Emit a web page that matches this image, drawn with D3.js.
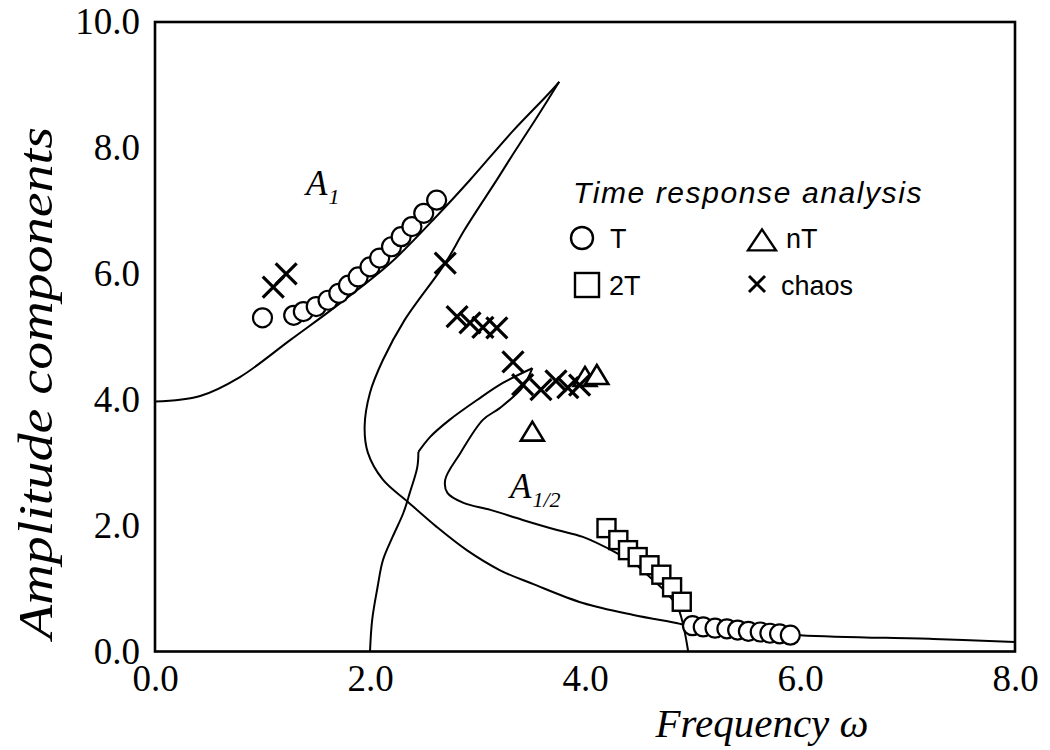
<!DOCTYPE html>
<html>
<head>
<meta charset="utf-8">
<script src="https://cdn.jsdelivr.net/npm/d3@7/dist/d3.min.js"></script>
<style>
  html, body { margin: 0; padding: 0; background: #fff; }
  svg { display: block; }
</style>
</head>
<body>
<svg id="chart" width="1050" height="750"></svg>
<script>
// Axis ticks
const xTicks = [0, 2, 4, 6, 8];
const yTicks = [0, 2, 4, 6, 8, 10];

// A1 curve: rising branch up to the peak
const a1RiseOmega = [0.00, 0.42, 0.79, 1.26, 1.72, 2.19, 2.65, 2.93, 3.33, 3.65, 3.76];
const a1RiseAmp   = [3.97, 4.06, 4.36, 4.95, 5.53, 6.17, 6.97, 7.49, 8.27, 8.84, 9.05];
// A1 curve: branch bending back from the peak and running out to high frequency
const a1FallOmega = [3.76, 3.65, 3.49, 3.33, 3.19, 2.88, 2.70, 2.32, 2.12, 2.00, 1.95, 1.98, 2.12, 2.35, 2.62, 2.90, 3.21, 3.52, 3.98, 4.45, 4.86, 4.93, 6.00, 7.24, 8.00];
const a1FallAmp   = [9.05, 8.75, 8.32, 7.90, 7.52, 6.70, 6.17, 5.26, 4.63, 4.11, 3.57, 3.16, 2.73, 2.38, 1.98, 1.61, 1.29, 1.07, 0.77, 0.58, 0.45, 0.42, 0.26, 0.20, 0.15];

// A1/2 curve: lower branch from omega = 2 up to the kink
const a12LowOmega = [2.00, 2.02, 2.07, 2.12, 2.21, 2.31, 2.37, 2.44, 2.45];
const a12LowAmp   = [0.00, 0.50, 1.02, 1.45, 1.82, 2.20, 2.52, 2.93, 3.17];
// A1/2 curve: from the kink up to the tip
const a12UpOmega  = [2.45, 2.56, 2.74, 3.00, 3.24, 3.51];
const a12UpAmp    = [3.17, 3.41, 3.68, 4.00, 4.27, 4.50];
// A1/2 curve: from the tip back down and over to omega = 5
const a12BackOmega = [3.51, 3.42, 3.21, 3.05, 2.84, 2.70, 2.72, 2.87, 3.12, 3.42, 3.74, 3.98, 4.30, 4.45, 4.63, 4.76, 4.86, 4.91, 4.96];
const a12BackAmp   = [4.50, 4.20, 3.87, 3.68, 3.15, 2.73, 2.52, 2.36, 2.25, 2.09, 1.93, 1.82, 1.56, 1.41, 1.14, 0.93, 0.71, 0.45, 0.00];

// Time response analysis: period T
const tOmega = [1.00, 1.29, 1.38, 1.50, 1.61, 1.71, 1.80, 1.89, 2.00, 2.09, 2.20, 2.29, 2.39, 2.50, 2.62,
                5.00, 5.10, 5.21, 5.32, 5.42, 5.52, 5.63, 5.72, 5.81, 5.91];
const tAmp   = [5.30, 5.34, 5.40, 5.48, 5.58, 5.69, 5.82, 5.95, 6.11, 6.25, 6.43, 6.59, 6.75, 6.96, 7.17,
                0.41, 0.39, 0.37, 0.36, 0.34, 0.32, 0.31, 0.29, 0.28, 0.26];
// period 2T
const twoTOmega = [4.20, 4.31, 4.40, 4.49, 4.60, 4.71, 4.81, 4.90];
const twoTAmp   = [1.96, 1.77, 1.61, 1.50, 1.37, 1.22, 1.02, 0.79];
// period nT
const nTOmega = [3.51, 4.00, 4.11];
const nTAmp   = [3.47, 4.34, 4.37];
// chaos
const chaosOmega = [1.10, 1.22, 2.70, 2.81, 2.93, 3.05, 3.18, 3.33, 3.42, 3.59, 3.73, 3.84, 3.95];
const chaosAmp   = [5.79, 6.00, 6.17, 5.32, 5.22, 5.15, 5.14, 4.60, 4.24, 4.16, 4.30, 4.19, 4.23];

const legendTitle = "Time response analysis";
const legendLabels = ["T", "nT", "2T", "chaos"];

const svg = d3.select("#chart");
const x = d3.scaleLinear().domain([0, 8]).range([155, 1015]);
const y = d3.scaleLinear().domain([0, 10]).range([651.5, 22]);

const serif = "'Liberation Serif', 'Times New Roman', serif";
const sans = "'Liberation Sans', Arial, sans-serif";

// Axes with tick labels only; the frame is drawn separately
const xAxis = svg.append("g")
  .attr("transform", `translate(0,${y(0)})`)
  .call(d3.axisBottom(x).tickValues(xTicks).tickFormat(d3.format(".1f")).tickSize(0).tickPadding(13));
const yAxis = svg.append("g")
  .attr("transform", `translate(${x(0)},0)`)
  .call(d3.axisLeft(y).tickValues(yTicks).tickFormat(d3.format(".1f")).tickSize(0).tickPadding(15));
[xAxis, yAxis].forEach(g => {
  g.select(".domain").remove();
  g.selectAll("text").attr("font-family", serif).attr("font-size", 37).attr("fill", "#000");
});

// Frame
svg.append("rect")
  .attr("x", x(0)).attr("y", y(10))
  .attr("width", x(8) - x(0)).attr("height", y(0) - y(10))
  .attr("fill", "none").attr("stroke", "#000").attr("stroke-width", 2.6);

// Curves
const line = d3.line().x(d => x(d[0])).y(d => y(d[1])).curve(d3.curveCatmullRom.alpha(0.5));
const zip = (a, b) => a.map((v, i) => [v, b[i]]);
[
  zip(a1RiseOmega, a1RiseAmp),
  zip(a1FallOmega, a1FallAmp),
  zip(a12LowOmega, a12LowAmp),
  zip(a12UpOmega, a12UpAmp),
  zip(a12BackOmega, a12BackAmp)
].forEach(pts => {
  svg.append("path").attr("d", line(pts))
    .attr("fill", "none").attr("stroke", "#000").attr("stroke-width", 2)
    .attr("stroke-linejoin", "round");
});

// Curve labels
function curveLabel(px, py, sub) {
  const t = svg.append("text").attr("x", px).attr("y", py)
    .attr("font-family", serif).attr("font-style", "italic").attr("font-size", 35).attr("fill", "#000");
  t.append("tspan").text("A");
  t.append("tspan").attr("font-size", 22).attr("dy", 9).attr("dx", 1).text(sub);
}
curveLabel(306, 195, "1");
curveLabel(510, 498, "1/2");

// Markers
const triPath = (w, h) => `M0,${-h * 0.6}L${w / 2},${h * 0.4}L${-w / 2},${h * 0.4}Z`;
const xPath = s => `M${-s},${-s}L${s},${s}M${-s},${s}L${s},${-s}`;

svg.append("g").selectAll("circle").data(zip(tOmega, tAmp)).join("circle")
  .attr("cx", d => x(d[0])).attr("cy", d => y(d[1])).attr("r", 9.5)
  .attr("fill", "#fff").attr("stroke", "#000").attr("stroke-width", 2.2);

svg.append("g").selectAll("rect").data(zip(twoTOmega, twoTAmp)).join("rect")
  .attr("x", d => x(d[0]) - 9).attr("y", d => y(d[1]) - 9).attr("width", 18).attr("height", 18)
  .attr("fill", "#fff").attr("stroke", "#000").attr("stroke-width", 2.4);

svg.append("g").selectAll("path").data(zip(nTOmega, nTAmp)).join("path")
  .attr("transform", d => `translate(${x(d[0])},${y(d[1])})`)
  .attr("d", triPath(23, 19))
  .attr("fill", "#fff").attr("stroke", "#000").attr("stroke-width", 2.6).attr("stroke-linejoin", "miter");

svg.append("g").selectAll("path").data(zip(chaosOmega, chaosAmp)).join("path")
  .attr("transform", d => `translate(${x(d[0])},${y(d[1])})`)
  .attr("d", xPath(10.5))
  .attr("fill", "none").attr("stroke", "#000").attr("stroke-width", 3.2);

// Legend
const lg = svg.append("g");
lg.append("text").attr("x", 573).attr("y", 203).text(legendTitle)
  .attr("font-family", sans).attr("font-style", "italic").attr("font-size", 30)
  .attr("letter-spacing", 1.6).attr("fill", "#000");
lg.append("circle").attr("cx", 582).attr("cy", 238).attr("r", 11)
  .attr("fill", "none").attr("stroke", "#000").attr("stroke-width", 2.4);
lg.append("path").attr("transform", "translate(762,242)").attr("d", triPath(28, 21))
  .attr("fill", "none").attr("stroke", "#000").attr("stroke-width", 2.4);
lg.append("rect").attr("x", 575).attr("y", 273).attr("width", 24).attr("height", 24)
  .attr("fill", "none").attr("stroke", "#000").attr("stroke-width", 2.4);
lg.append("path").attr("transform", "translate(757,284)").attr("d", xPath(8))
  .attr("fill", "none").attr("stroke", "#000").attr("stroke-width", 3);
const legendPos = [[610, 248], [786, 248], [609, 295], [781, 295]];
legendLabels.forEach((t, i) => {
  lg.append("text").attr("x", legendPos[i][0]).attr("y", legendPos[i][1]).text(t)
    .attr("font-family", sans).attr("font-size", 27).attr("fill", "#000");
});

// Axis titles
svg.append("text").attr("x", 762).attr("y", 737).attr("text-anchor", "middle")
  .attr("font-family", serif).attr("font-style", "italic").attr("font-size", 41).attr("fill", "#000")
  .text("Frequency ω");
svg.append("text").attr("transform", "translate(52,383) rotate(-90)").attr("text-anchor", "middle")
  .attr("font-family", serif).attr("font-style", "italic").attr("font-size", 48).attr("fill", "#000")
  .attr("textLength", 512).attr("lengthAdjust", "spacingAndGlyphs")
  .text("Amplitude components");
</script>
</body>
</html>
